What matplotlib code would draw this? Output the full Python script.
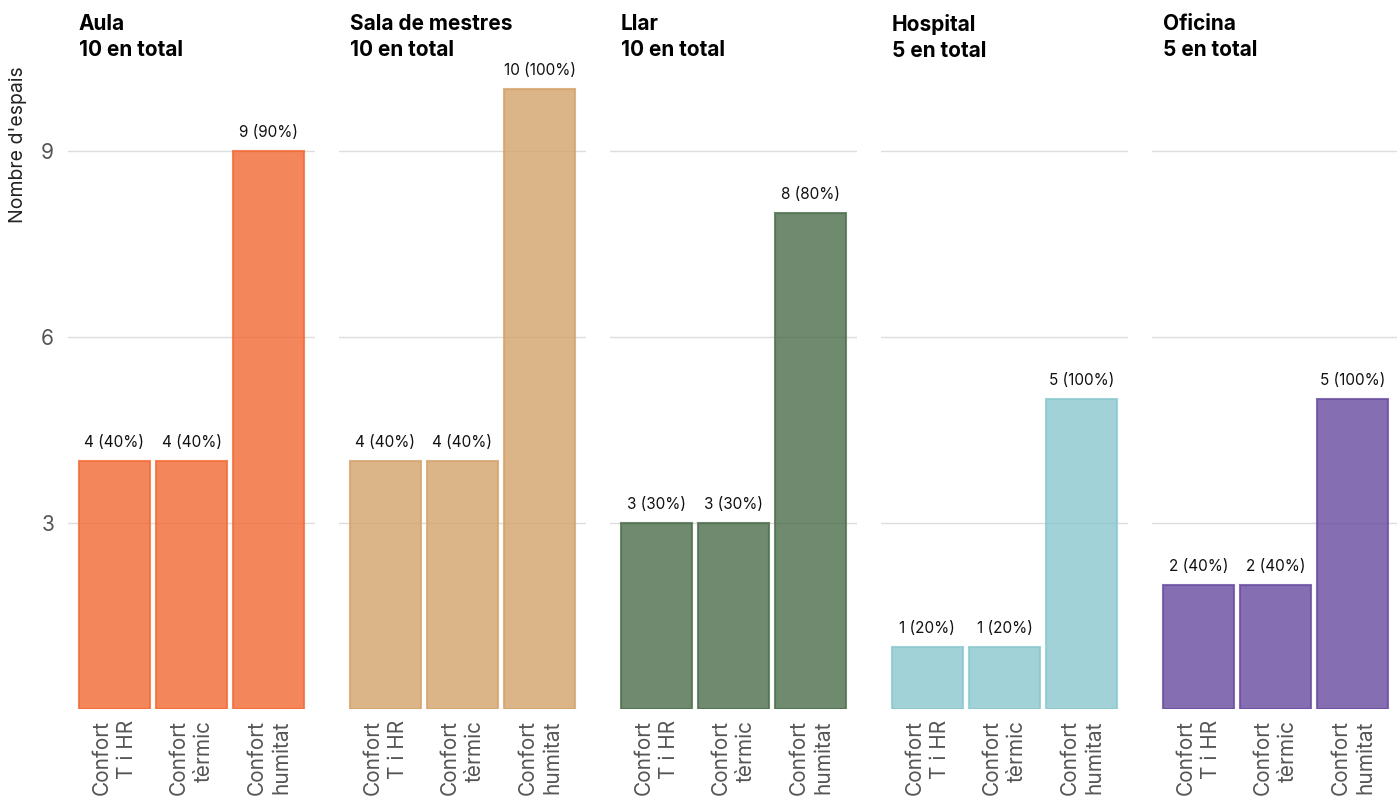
import matplotlib.pyplot as plt

# Data
spaces = ['Aula', 'Sala de mestres', 'Llar', 'Hospital', 'Oficina']
totals = [10, 10, 10, 5, 5]
categories = ['Confort\nT i HR', 'Confort\ntèrmic', 'Confort\nhumitat']
aula = [4, 4, 9]
sala = [4, 4, 10]
llar = [3, 3, 8]
hospital = [1, 1, 5]
oficina = [2, 2, 5]
values = [aula, sala, llar, hospital, oficina]

colors = ['#f26b38', '#d4a46e', '#4f704f', '#8cc8cf', '#6a4ea0']

plt.rcParams['font.family'] = ['Inter', 'DejaVu Sans']

fig = plt.figure(figsize=(13.97, 7.98), dpi=100)

W, H = 1397, 798
panel_w = 247
step = 271
left0 = 68
bottom_px = 709
top_px = 80

for i, (name, total, vals) in enumerate(zip(spaces, totals, values)):
    left = left0 + step * i
    ax = fig.add_axes([left / W, 1 - bottom_px / H, panel_w / W, (bottom_px - top_px) / H])
    x = range(len(vals))
    ax.bar(x, vals, width=0.92, color=colors[i], alpha=0.82, edgecolor=colors[i],
           linewidth=1.5, zorder=3)
    for xi, v in zip(x, vals):
        ax.text(xi, v + 0.17, f'{v} ({round(100 * v / total)}%)', ha='center', va='bottom',
                fontsize=11, color='#111111', zorder=4)
    ax.set_xlim(-0.6, 2.6)
    ax.set_ylim(0, (bottom_px - top_px) / 62)
    ax.set_yticks([3, 6, 9])
    ax.grid(axis='y', color='#dddddd', linewidth=1, zorder=0)
    ax.set_axisbelow(True)
    for s in ax.spines.values():
        s.set_visible(False)
    ax.tick_params(axis='y', length=0, labelsize=15, labelcolor='#555555', pad=10)
    if i > 0:
        ax.set_yticklabels([])
    ax.set_xticks(list(x))
    ax.set_xticklabels(categories, rotation=90, fontsize=15, color='#555555',
                       multialignment='right', linespacing=1.3)
    ax.tick_params(axis='x', length=0, pad=8)
    ax.text(-0.46, 1.105, f'{name}\n{total} en total', transform=ax.get_xaxis_transform(),
            ha='left', va='top', fontsize=15, fontweight='bold', linespacing=1.35)

fig.text(18 / W, 1 - 145 / H, "Nombre d'espais", rotation=90, ha='center', va='center',
         fontsize=14, color='#222222')

fig.savefig('out.png', dpi=100)
